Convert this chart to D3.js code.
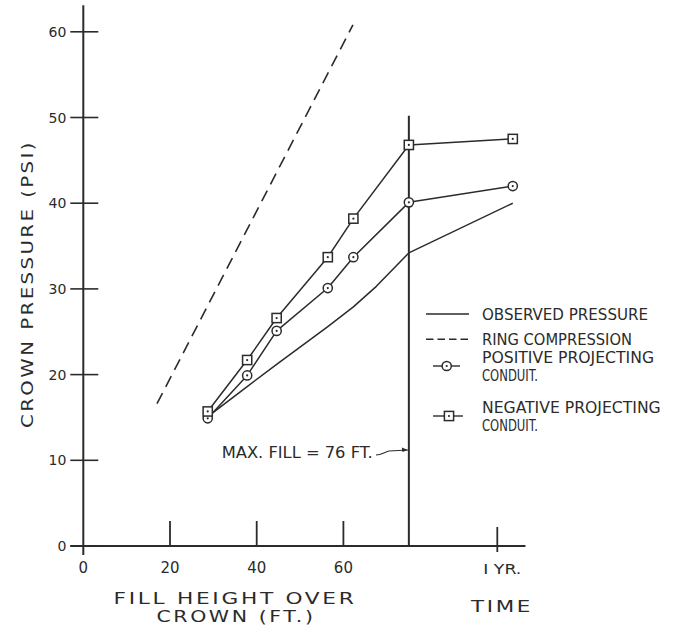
<!DOCTYPE html>
<html>
<head>
<meta charset="utf-8">
<script src="https://cdn.jsdelivr.net/npm/d3@7"></script>
<style>
  html, body { margin: 0; padding: 0; background: #fff; }
  svg { display: block; }
</style>
</head>
<body>
<svg id="chart" width="677" height="626"></svg>
<script>
// ---------------- DATA ----------------
const fillHeights = [28.7, 37.8, 44.6, 56.4, 62.3, 75.1];          // ft over crown
const maxFill = 75.1;                                                 // position of the max-fill line
const maxFillLabel = "MAX. FILL = 76 FT.";
const timeAfterFill = 14.1;                                           // months, last reading
const negativeProjecting = [15.7, 21.7, 26.6, 33.7, 38.2, 46.8];     // psi at fill heights
const negativeProjectingTime = 47.5;                                  // psi at last reading
const positiveProjecting = [14.9, 19.9, 25.1, 30.1, 33.7, 40.1];
const positiveProjectingTime = 42.0;
const observedFill = [28.7, 37.8, 44.6, 56.4, 62.3, 67.6, 75.1];
const observedPressure = [15.1, 18.6, 21.2, 25.6, 27.9, 30.3, 34.2];
const observedTime = 40.0;
const ringFill = [17.0, 62.2];
const ringPressure = [16.6, 60.8];
const yTicks = [0, 10, 20, 30, 40, 50, 60];
const xTicks = [0, 20, 40, 60];
const yearTickLabel = "I YR.";
const yearPosition = 95.5;      // horizontal position of the 1-year tick, in ft-units of the axis
const legendItems = [
  { type: "solid",  lines: ["OBSERVED PRESSURE"] },
  { type: "dashed", lines: ["RING COMPRESSION"] },
  { type: "circle", lines: ["POSITIVE PROJECTING", "CONDUIT."] },
  { type: "square", lines: ["NEGATIVE PROJECTING", "CONDUIT."] }
];

// ---------------- SCALES ----------------
const ink = "#2b2b2b";
const svg = d3.select("#chart");
const x = d3.scaleLinear().domain([0, 100]).range([83.3, 516.8]);
const y = d3.scaleLinear().domain([0, 60]).range([546, 31.8]);
// time after max fill, mapped onto the same horizontal axis
const t = d3.scaleLinear().domain([0, 12]).range([x(maxFill), x(yearPosition)]);

const font = "'DejaVu Sans', sans-serif";
const condFont = "'DejaVu Sans Condensed', 'Liberation Sans Narrow', 'DejaVu Sans', sans-serif";

// ---------------- AXES ----------------
const g = svg.append("g");
g.append("line").attr("x1", x(0)).attr("x2", x(0))
  .attr("y1", y(63.1)).attr("y2", y(-1.05))
  .attr("stroke", ink).attr("stroke-width", 2);
g.append("line").attr("x1", x(0) - 13).attr("x2", x(102))
  .attr("y1", y(0)).attr("y2", y(0))
  .attr("stroke", ink).attr("stroke-width", 2);

g.selectAll(".ytick").data(yTicks).enter().append("line")
  .attr("x1", x(0) - 13).attr("x2", x(0) + 15)
  .attr("y1", d => y(d)).attr("y2", d => y(d))
  .attr("stroke", ink).attr("stroke-width", 1.6);
g.selectAll(".ylab").data(yTicks).enter().append("text")
  .attr("x", x(0) - 17).attr("y", d => y(d) + 0.365 * 14)
  .attr("text-anchor", "end").attr("font-family", font).attr("font-size", 14)
  .attr("fill", ink).text(d => d);

g.selectAll(".xtick").data(xTicks.filter(d => d > 0)).enter().append("line")
  .attr("x1", d => x(d)).attr("x2", d => x(d))
  .attr("y1", y(0) - 25).attr("y2", y(0))
  .attr("stroke", ink).attr("stroke-width", 1.8);
g.selectAll(".xlab").data(xTicks).enter().append("text")
  .attr("x", d => x(d)).attr("y", 568 + 0.365 * 15)
  .attr("text-anchor", "middle").attr("font-family", font).attr("font-size", 15)
  .attr("fill", ink).text(d => d);
g.append("line").attr("x1", t(12)).attr("x2", t(12))
  .attr("y1", y(0) - 19).attr("y2", y(0) + 6)
  .attr("stroke", ink).attr("stroke-width", 1.8);
g.append("text").attr("x", t(12) + 5).attr("y", 569 + 0.365 * 14)
  .attr("text-anchor", "middle").attr("font-family", font).attr("font-size", 14)
  .attr("textLength", 38).attr("lengthAdjust", "spacingAndGlyphs")
  .attr("fill", ink).text(yearTickLabel);

// max fill vertical line
g.append("line").attr("x1", x(maxFill)).attr("x2", x(maxFill))
  .attr("y1", y(50.2)).attr("y2", y(0))
  .attr("stroke", ink).attr("stroke-width", 2);

// axis titles
function title(txt, cx, cy, len, rotate) {
  const el = g.append("text")
    .attr("text-anchor", "middle").attr("font-family", font).attr("font-size", 16)
    .attr("letter-spacing", 2)
    .attr("textLength", len).attr("lengthAdjust", "spacingAndGlyphs")
    .attr("fill", ink).text(txt);
  if (rotate) el.attr("transform", `translate(${cx + 0.365 * 16},${cy}) rotate(-90)`);
  else el.attr("x", cx).attr("y", cy + 0.365 * 16);
}
title("CROWN PRESSURE (PSI)", 27, 284, 288, true);
title("FILL HEIGHT OVER", 235, 598, 243);
title("CROWN (FT.)", 236, 616.5, 159);
title("TIME", 502, 606, 62);

// ---------------- SERIES ----------------
const line = d3.line().x(d => d[0]).y(d => d[1]);

const obsPts = observedFill.map((f, i) => [x(f), y(observedPressure[i])])
  .concat([[t(timeAfterFill), y(observedTime)]]);
const negPts = fillHeights.map((f, i) => [x(f), y(negativeProjecting[i])])
  .concat([[t(timeAfterFill), y(negativeProjectingTime)]]);
const posPts = fillHeights.map((f, i) => [x(f), y(positiveProjecting[i])])
  .concat([[t(timeAfterFill), y(positiveProjectingTime)]]);
const ringPts = ringFill.map((f, i) => [x(f), y(ringPressure[i])]);

const series = svg.append("g").attr("fill", "none").attr("stroke", ink).attr("stroke-linejoin", "round");
series.append("path").attr("d", line(obsPts)).attr("stroke-width", 1.5);
series.append("path").attr("d", line(ringPts)).attr("stroke-width", 1.6)
  .attr("stroke-dasharray", "12,7");
series.append("path").attr("d", line(posPts)).attr("stroke-width", 1.5);
series.append("path").attr("d", line(negPts)).attr("stroke-width", 1.5);

function drawCircle(sel, cx, cy) {
  sel.append("circle").attr("cx", cx).attr("cy", cy).attr("r", 4.6)
    .attr("fill", "#fff").attr("stroke", ink).attr("stroke-width", 1.5);
  sel.append("circle").attr("cx", cx).attr("cy", cy).attr("r", 1.1).attr("fill", ink);
}
function drawSquare(sel, cx, cy) {
  sel.append("rect").attr("x", cx - 4.6).attr("y", cy - 4.6).attr("width", 9.2).attr("height", 9.2)
    .attr("fill", "#fff").attr("stroke", ink).attr("stroke-width", 1.5);
  sel.append("circle").attr("cx", cx).attr("cy", cy).attr("r", 1.1).attr("fill", ink);
}
const marks = svg.append("g");
posPts.forEach(p => drawCircle(marks, p[0], p[1]));
negPts.forEach(p => drawSquare(marks, p[0], p[1]));

// ---------------- ANNOTATION ----------------
const annY = y(10.85);
svg.append("text").attr("x", 221.7).attr("y", annY + 0.365 * 15)
  .attr("font-family", condFont).attr("font-size", 15)
  .attr("textLength", 151).attr("lengthAdjust", "spacingAndGlyphs")
  .attr("fill", ink).text(maxFillLabel);
const ax0 = 376, ax1 = x(maxFill) - 1;
svg.append("path")
  .attr("d", `M${ax0},${annY + 2} C${ax0 + 6},${annY + 2} ${ax0 + 8},${annY - 1} ${ax0 + 13},${annY - 2} L${ax1},${annY - 3}`)
  .attr("fill", "none").attr("stroke", ink).attr("stroke-width", 1.1);
svg.append("path")
  .attr("d", `M${ax1},${annY - 3} l-6,-2.5 l0.5,4.5 z`)
  .attr("fill", ink);

// ---------------- LEGEND ----------------
const legend = svg.append("g");
const legFs = 16;
const legRows = [
  { y: 314, widths: [166], sy: 314 },
  { y: 339.3, widths: [150], sy: 339.3 },
  { y: 356.7, widths: [172, 56], sy: 366 },
  { y: 406.7, widths: [178.7, 56], sy: 416 }
];
legRows.forEach((r, i) => {
  const item = legendItems[i];
  item.lines.forEach((s, j) => {
    legend.append("text").attr("x", 482).attr("y", r.y + j * 18.3 + 0.365 * legFs)
      .attr("font-family", condFont).attr("font-size", legFs)
      .attr("textLength", r.widths[j]).attr("lengthAdjust", "spacingAndGlyphs")
      .attr("fill", ink).text(s);
  });
  if (item.type === "solid") {
    legend.append("line").attr("x1", 426).attr("x2", 469).attr("y1", r.sy).attr("y2", r.sy)
      .attr("stroke", ink).attr("stroke-width", 1.5);
  } else if (item.type === "dashed") {
    legend.append("line").attr("x1", 426).attr("x2", 469).attr("y1", r.sy).attr("y2", r.sy)
      .attr("stroke", ink).attr("stroke-width", 1.6).attr("stroke-dasharray", "7.5,4");
  } else if (item.type === "circle") {
    legend.append("line").attr("x1", 433).attr("x2", 460).attr("y1", r.sy).attr("y2", r.sy)
      .attr("stroke", ink).attr("stroke-width", 1.4);
    drawCircle(legend, 446.7, r.sy);
  } else {
    legend.append("line").attr("x1", 433).attr("x2", 463).attr("y1", r.sy).attr("y2", r.sy)
      .attr("stroke", ink).attr("stroke-width", 1.4);
    drawSquare(legend, 449, r.sy);
  }
});
</script>
</body>
</html>
